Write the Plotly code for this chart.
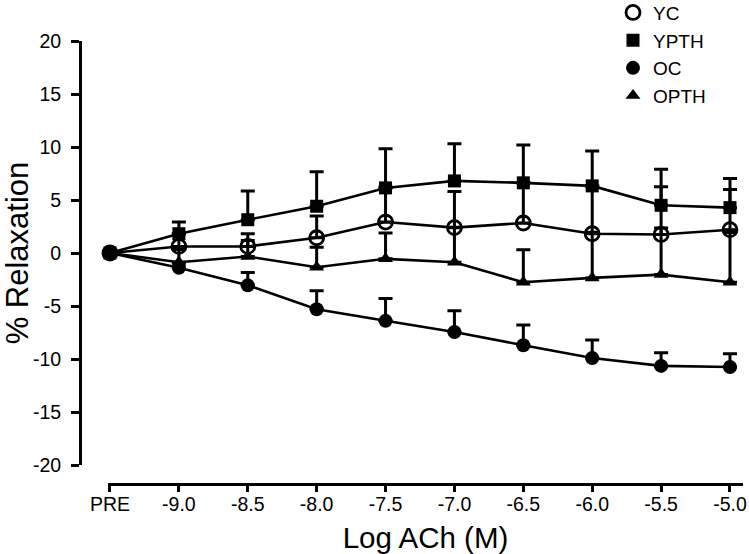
import plotly.graph_objects as go

categories = ["PRE", "-9.0", "-8.5", "-8.0", "-7.5", "-7.0", "-6.5", "-6.0", "-5.5", "-5.0"]
x_pos = list(range(len(categories)))

yc = [0, 0.62, 0.62, 1.44, 2.92, 2.39, 2.83, 1.82, 1.75, 2.2]
yc_err = [0, 1.2, 1.2, 2.05, 3.3, 3.4, 3.8, 4.5, 4.5, 3.8]

ypth = [0, 1.82, 3.14, 4.41, 6.14, 6.8, 6.62, 6.33, 4.5, 4.28]
ypth_err = [0, 1.1, 2.7, 3.25, 3.7, 3.5, 3.57, 3.3, 3.4, 2.75]

oc = [0, -1.4, -3.05, -5.3, -6.4, -7.45, -8.7, -9.9, -10.65, -10.75]
oc_err = [0, 0.5, 1.2, 1.75, 2.1, 2.0, 1.9, 1.7, 1.25, 1.25]

opth = [0, -0.87, -0.33, -1.35, -0.55, -0.87, -2.76, -2.35, -2.04, -2.76]
opth_err = [0, 1.2, 1.5, 1.9, 2.43, 3.3, 3.06, 4.3, 4.4, 4.7]

y_tickvals = [-20, -15, -10, -5, 0, 5, 10, 15, 20]
y_ticktext = ["-20", "-15", "-10", "-5", "0", "5", "10", "15", "20"]

FONT = "Liberation Sans, Arial, sans-serif"

series = [
    ("YC", yc, yc_err, dict(symbol="circle-open", size=14, color="black", line=dict(width=2.8, color="black"))),
    ("YPTH", ypth, ypth_err, dict(symbol="square", size=13, color="black")),
    ("OC", oc, oc_err, dict(symbol="circle", size=14, color="black")),
    ("OPTH", opth, opth_err, dict(symbol="triangle-up", size=13, color="black")),
]

fig = go.Figure()
for name, vals, errs, marker in series:
    fig.add_trace(go.Scatter(
        x=x_pos, y=vals, name=name, mode="lines+markers",
        line=dict(color="black", width=2.6),
        marker=marker,
        error_y=dict(type="data", symmetric=False, array=errs,
                     arrayminus=[0] * len(errs), color="black",
                     thickness=3, width=7),
        cliponaxis=False, showlegend=False,
    ))

# legend entries (marker symbols only, like the reference key)
for name, vals, errs, marker in series:
    fig.add_trace(go.Scatter(
        x=[None], y=[None], name=name, mode="markers",
        marker=marker, showlegend=True,
    ))

fig.update_layout(
    width=749, height=554,
    margin=dict(l=80, r=4, t=41, b=70, autoexpand=False),
    plot_bgcolor="white", paper_bgcolor="white",
    font=dict(family=FONT, color="black"),
    showlegend=True,
    legend=dict(x=0.8015, y=1.107, xanchor="left", yanchor="top",
                font=dict(family=FONT, size=19, color="black"),
                bgcolor="rgba(0,0,0,0)", tracegroupgap=0),
    xaxis=dict(
        domain=[0.0421, 0.997], range=[-0.029, 9.189],
        tickvals=x_pos, ticktext=categories,
        ticks="outside", ticklen=6, tickwidth=2.5, tickcolor="black",
        showline=True, linewidth=3, linecolor="black",
        anchor="free", position=0,
        showgrid=False, zeroline=False,
        ticklabelstandoff=-4,
        tickfont=dict(family=FONT, size=19.5),
        title=dict(text="Log ACh (M)", font=dict(family=FONT, size=29.5), standoff=13),
    ),
    yaxis=dict(
        domain=[0.0429, 1], range=[-20, 20],
        tickvals=y_tickvals, ticktext=y_ticktext,
        ticks="outside", ticklen=8, tickwidth=2.5, tickcolor="black",
        showline=True, linewidth=3, linecolor="black",
        anchor="free", position=0,
        showgrid=False, zeroline=False,
        ticklabelstandoff=6,
        tickfont=dict(family=FONT, size=19.5),
        title=dict(text="% Relaxation", font=dict(family=FONT, size=31), standoff=26),
    ),
)

fig.write_html("out.html", config={"displayModeBar": False},
               post_script="document.body.style.margin='0px';")
